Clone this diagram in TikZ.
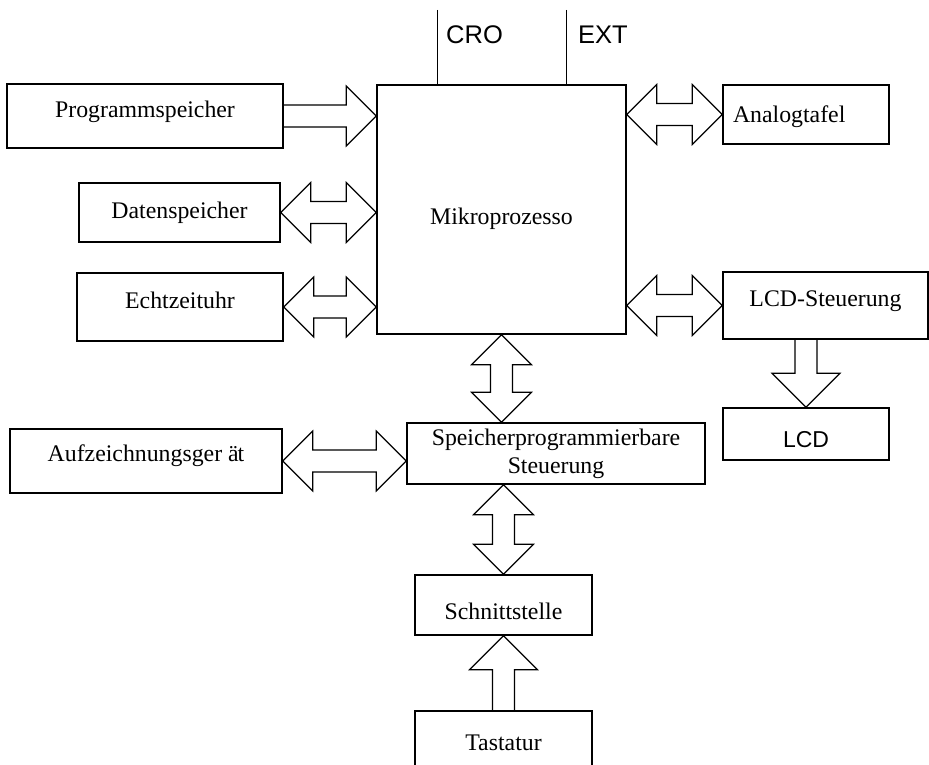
\documentclass[tikz,border=0pt]{standalone}
\usepackage{fontspec}
\setmainfont{Liberation Serif}
\setsansfont{Liberation Sans}
\usepackage{tikz}
\usetikzlibrary{calc}

\newcommand{\fatshaft}{11pt}
% hollow block arrow from #2 to #3, head size #1
\newcommand{\fatone}[3][30pt]{%
  \draw[fat] ($(#2)!\fatshaft!90:(#3)$)
    -- ($(#3)!#1!(#2)!\fatshaft!-90:(#2)$)
    -- ($(#3)!#1!(#2)!#1!-90:(#2)$)
    -- (#3)
    -- ($(#3)!#1!(#2)!#1!90:(#2)$)
    -- ($(#3)!#1!(#2)!\fatshaft!90:(#2)$)
    -- ($(#2)!\fatshaft!-90:(#3)$);}
% same, with heads at both ends
\newcommand{\fatboth}[3][30pt]{%
  \draw[fat] (#2)
    -- ($(#2)!#1!(#3)!#1!90:(#3)$)
    -- ($(#2)!#1!(#3)!\fatshaft!90:(#3)$)
    -- ($(#3)!#1!(#2)!\fatshaft!-90:(#2)$)
    -- ($(#3)!#1!(#2)!#1!-90:(#2)$)
    -- (#3)
    -- ($(#3)!#1!(#2)!#1!90:(#2)$)
    -- ($(#3)!#1!(#2)!\fatshaft!90:(#2)$)
    -- ($(#2)!#1!(#3)!\fatshaft!-90:(#3)$)
    -- ($(#2)!#1!(#3)!#1!-90:(#3)$)
    -- cycle;}

\begin{document}
\begin{tikzpicture}[x=1pt, y=-1pt,
   box/.style={draw, line width=1.6pt, inner sep=0pt, align=center,
               font=\fontsize{23.8}{28}\selectfont},
   fat/.style={line width=1.2pt, line join=miter},
   wire/.style={line width=0.9pt},
   tag/.style={anchor=west, inner sep=0pt, font=\sffamily\fontsize{25.5}{30}\selectfont}]
  \useasboundingbox (0,0) rectangle (929,765);

  \node[box, minimum width=249pt, minimum height=249pt, text height=36pt] (micro) at (501.5,209.5) {Mikroprozesso};
  \node[box, minimum width=276pt, minimum height=64pt, text depth=14pt] (prog) at (145,116) {Programmspeicher};
  \node[box, minimum width=201pt, minimum height=59pt] (dat) at (179.5,212.5) {Datenspeicher};
  \node[box, minimum width=206pt, minimum height=68pt, text depth=14pt] (echt) at (180,307) {Echtzeituhr};
  \node[box, minimum width=166pt, minimum height=59pt, text width=146pt, align=left, text height=22pt] (analog) at (806,114.5) {Analogtafel};
  \node[box, minimum width=205pt, minimum height=67pt, text depth=13pt] (lcdst) at (825.5,305.5) {LCD-Steuerung};
  \node[box, minimum width=166pt, minimum height=52pt, text height=28pt, font=\sffamily\fontsize{23}{26}\selectfont] (lcd) at (806,434) {LCD};
  \node[box, minimum width=298pt, minimum height=61pt] (sps) at (556,453.5) {Speicherprogrammierbare\\Steuerung};
  \node[box, minimum width=272pt, minimum height=64pt, text depth=16pt] (aufz) at (146,461) {Aufzeichnungsger\hspace{0.25em}ä\kern-1pt t};
  \node[box, minimum width=177pt, minimum height=60pt, text height=30pt] (schnitt) at (503.5,605) {Schnittstelle};
  \node[box, minimum width=177pt, minimum height=64pt] (tast) at (503.5,743) {Tastatur};

  \coordinate (cro) at (437,10);
  \coordinate (ext) at (566,10);
  \draw[wire] (cro) -- (cro |- micro.north);
  \draw[wire] (ext) -- (ext |- micro.north);
  \node[tag] (crolbl) at (446,34.5) {CRO};
  \node[tag] (extlbl) at (578,34.5) {EXT};

  \fatone{prog.east}{prog.east -| micro.west}
  \fatboth{dat.east}{dat.east -| micro.west}
  \fatboth{echt.east}{echt.east -| micro.west}
  \fatboth{analog.west -| micro.east}{analog.west}
  \fatboth{lcdst.west -| micro.east}{lcdst.west}
  \fatone[34pt]{lcd.north |- lcdst.south}{lcd.north}
  \fatboth{micro.south}{micro.south |- sps.north}
  \fatboth{aufz.east}{aufz.east -| sps.west}
  \fatboth{schnitt.north |- sps.south}{schnitt.north}
  \fatone[34pt]{tast.north}{schnitt.south}
\end{tikzpicture}
\end{document}
